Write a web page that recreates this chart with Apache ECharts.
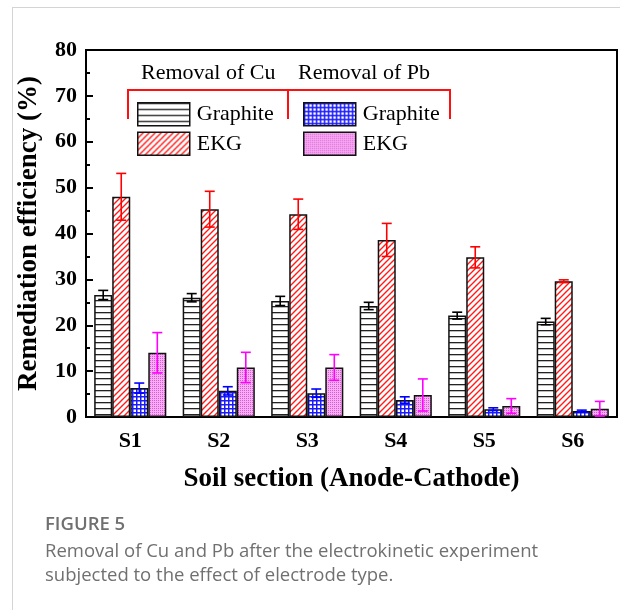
<!DOCTYPE html>
<html>
<head>
<meta charset="utf-8">
<script src="https://cdn.jsdelivr.net/npm/echarts@6/dist/echarts.min.js"></script>
<style>
  html, body { margin: 0; padding: 0; background: #fff; }
  #chart { width: 620px; height: 610px; }
</style>
</head>
<body>
<div id="chart"></div>
<script>
// Soil sections along the cell, anode to cathode
const categories = ['S1', 'S2', 'S3', 'S4', 'S5', 'S6'];
const yTicks = [0, 10, 20, 30, 40, 50, 60, 70, 80];

// Removal efficiency (%) and standard deviation per section
const cuGraphite    = [26.6, 26.0, 25.3, 24.2, 22.1, 20.8];
const cuGraphiteErr = [1.0, 0.9, 1.0, 0.8, 0.75, 0.7];
const cuEkg         = [48.0, 45.3, 44.2, 38.6, 34.8, 29.6];
const cuEkgErr      = [5.1, 3.9, 3.3, 3.6, 2.3, 0.3];
const pbGraphite    = [6.3, 5.7, 5.2, 3.7, 1.7, 1.3];
const pbGraphiteErr = [1.1, 0.9, 0.9, 0.7, 0.3, 0.2];
const pbEkg         = [14.0, 10.8, 10.8, 4.8, 2.4, 1.8];
const pbEkgErr      = [4.4, 3.3, 2.8, 3.5, 1.6, 1.6];

const SERIF = '"Liberation Serif", "Times New Roman", serif';
const CATEGORY_GAP = 0.185;

// Hatch fills painted on small canvases and tiled by zrender
function tile(w, h, draw) {
  const c = document.createElement('canvas');
  c.width = w; c.height = h;
  const g = c.getContext('2d');
  draw(g, w, h);
  return { image: c, repeat: 'repeat' };
}
const hLines = tile(6, 6, (g, w, h) => {
  g.fillStyle = '#fff'; g.fillRect(0, 0, w, h);
  g.fillStyle = '#222'; g.fillRect(0, 0, w, 1.3);
});
const diagRed = tile(6, 6, (g, w, h) => {
  g.fillStyle = '#fff'; g.fillRect(0, 0, w, h);
  g.strokeStyle = '#ff1a1a'; g.lineWidth = 1.4;
  g.beginPath();
  g.moveTo(-1, h + 1); g.lineTo(w + 1, -1);
  g.moveTo(-1, 1); g.lineTo(1, -1);
  g.moveTo(w - 1, h + 1); g.lineTo(w + 1, h - 1);
  g.stroke();
});
const blueGrid = tile(4, 4, (g, w, h) => {
  g.fillStyle = '#1a1aff'; g.fillRect(0, 0, w, h);
  g.fillStyle = '#fff'; g.fillRect(1.5, 1.5, 2.5, 2.5);
});
const pinkDots = tile(2, 2, (g, w, h) => {
  g.fillStyle = '#f6aef2'; g.fillRect(0, 0, w, h);
  g.fillStyle = '#e055dc'; g.fillRect(0, 0, 1, 1);
});

const groups = [
  { name: 'Cu-Graphite', values: cuGraphite, errs: cuGraphiteErr, fill: hLines,   errColor: '#000' },
  { name: 'Cu-EKG',      values: cuEkg,      errs: cuEkgErr,      fill: diagRed,  errColor: '#ff0000' },
  { name: 'Pb-Graphite', values: pbGraphite, errs: pbGraphiteErr, fill: blueGrid, errColor: '#0000ff' },
  { name: 'Pb-EKG',      values: pbEkg,      errs: pbEkgErr,      fill: pinkDots, errColor: '#ff00ff' }
];

const barSeries = groups.map(s => ({
  name: s.name,
  type: 'bar',
  data: s.values,
  barGap: '0%',
  barCategoryGap: (CATEGORY_GAP * 100) + '%',
  itemStyle: { color: s.fill, borderColor: '#111', borderWidth: 1.5 },
  emphasis: { disabled: true },
  z: 2
}));

// Error bars placed at the centre of each grouped bar
const errSeries = groups.map((s, k) => ({
  type: 'custom',
  z: 5,
  silent: true,
  data: s.values.map((v, i) => [i, v, s.errs[i]]),
  renderItem: (params, api) => {
    const i = api.value(0), v = api.value(1), e = api.value(2);
    const band = api.size([1, 0])[0];
    const bw = band * (1 - CATEGORY_GAP) / groups.length;
    const x = api.coord([i, v])[0] + (k - (groups.length - 1) / 2) * bw;
    const yTop = api.coord([i, v + e])[1];
    const yBot = api.coord([i, Math.max(v - e, 0)])[1];
    const cap = 5;
    const style = { stroke: s.errColor, lineWidth: 1.6 };
    return {
      type: 'group',
      children: [
        { type: 'line', shape: { x1: x, y1: yTop, x2: x, y2: yBot }, style },
        { type: 'line', shape: { x1: x - cap, y1: yTop, x2: x + cap, y2: yTop }, style },
        { type: 'line', shape: { x1: x - cap, y1: yBot, x2: x + cap, y2: yBot }, style }
      ]
    };
  }
}));

const legendCommon = {
  orient: 'vertical',
  padding: 0,
  itemWidth: 52,
  itemHeight: 23,
  itemGap: 5,
  selectedMode: false,
  icon: 'rect',
  itemStyle: { borderColor: '#111', borderWidth: 1.5 },
  formatter: n => n.split('-')[1],
  textStyle: { fontFamily: SERIF, fontSize: 22, color: '#000', padding: [0, 0, 0, 2] }
};

const chart = echarts.init(document.getElementById('chart'), null, { renderer: 'canvas' });
chart.setOption({
  animation: false,
  backgroundColor: '#fff',
  grid: { left: 86, right: 3, top: 50, bottom: 193, show: true, borderColor: '#000', borderWidth: 2 },
  legend: [
    Object.assign({ left: 137, top: 102, data: ['Cu-Graphite', 'Cu-EKG'] }, legendCommon),
    Object.assign({ left: 303, top: 102, data: ['Pb-Graphite', 'Pb-EKG'] }, legendCommon)
  ],
  xAxis: {
    type: 'category',
    data: categories,
    name: 'Soil section (Anode-Cathode)',
    nameLocation: 'middle',
    nameGap: 49,
    nameTextStyle: { fontFamily: SERIF, fontSize: 27, fontWeight: 'bold', color: '#000' },
    axisLine: { lineStyle: { color: '#000', width: 2 } },
    axisTick: { inside: true, length: 5, lineStyle: { color: '#000', width: 2 } },
    axisLabel: { margin: 13, fontFamily: SERIF, fontSize: 22, fontWeight: 'bold', color: '#000' }
  },
  yAxis: {
    type: 'value',
    min: yTicks[0],
    max: yTicks[yTicks.length - 1],
    interval: yTicks[1] - yTicks[0],
    name: 'Remediation efficiency (%)',
    nameLocation: 'middle',
    nameGap: 43,
    nameTextStyle: { fontFamily: SERIF, fontSize: 27, fontWeight: 'bold', color: '#000' },
    axisLine: { show: true, lineStyle: { color: '#000', width: 2 } },
    axisTick: { show: true, inside: true, length: 7, lineStyle: { color: '#000', width: 2 } },
    minorTick: { show: true, splitNumber: 2, length: 4, lineStyle: { color: '#000', width: 2 } },
    splitLine: { show: false },
    axisLabel: { margin: 9, fontFamily: SERIF, fontSize: 22, fontWeight: 'bold', color: '#000' }
  },
  series: barSeries.concat(errSeries),
  graphic: [
    // page frame
    { type: 'line', silent: true, shape: { x1: 12, y1: 7.5, x2: 620, y2: 7.5 }, style: { stroke: '#d4d4d4', lineWidth: 1 } },
    { type: 'line', silent: true, shape: { x1: 12.5, y1: 7, x2: 12.5, y2: 610 }, style: { stroke: '#d4d4d4', lineWidth: 1 } },
    // group headings and brackets
    { type: 'text', left: 141, top: 62, style: { text: 'Removal of Cu', font: '22px ' + SERIF, fill: '#000' } },
    { type: 'text', left: 298, top: 62, style: { text: 'Removal of Pb', font: '22px ' + SERIF, fill: '#000' } },
    { type: 'polyline', silent: true, shape: { points: [[128, 119], [128, 90], [450, 90], [450, 119]] }, style: { stroke: '#ff1010', lineWidth: 2, fill: null } },
    { type: 'line', silent: true, shape: { x1: 288, y1: 90, x2: 288, y2: 119 }, style: { stroke: '#ff1010', lineWidth: 2 } },
    // caption
    { type: 'text', left: 45, top: 515, style: { text: 'FIGURE 5', font: '600 18.5px "Open Sans", sans-serif', fill: '#707070' } },
    { type: 'text', left: 45, top: 542, style: { text: 'Removal of Cu and Pb after the electrokinetic experiment', font: '18.5px "Open Sans", sans-serif', fill: '#707070' } },
    { type: 'text', left: 45, top: 566, style: { text: 'subjected to the effect of electrode type.', font: '18.5px "Open Sans", sans-serif', fill: '#707070' } }
  ]
});
</script>
</body>
</html>
